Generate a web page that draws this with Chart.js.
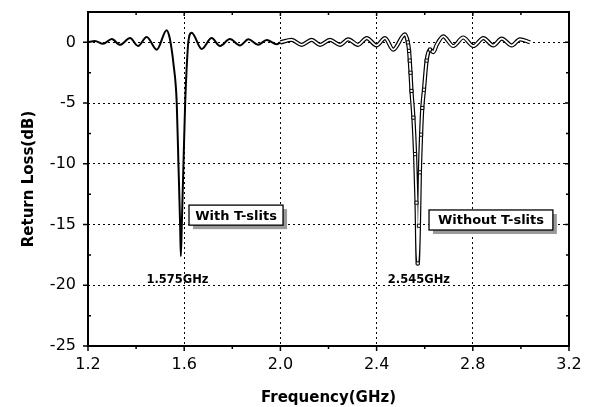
<!DOCTYPE html>
<html>
<head>
<meta charset="utf-8">
<script src="https://cdn.jsdelivr.net/npm/chart.js@4/dist/chart.umd.min.js"></script>
<style>
    html, body { margin: 0; padding: 0; background: #fff; }
    #wrap { width: 594px; height: 407px; }
</style>
</head>
<body>
<div id="wrap"><canvas id="rl" width="594" height="407"></canvas></div>
<script>
// Return loss (GHz, dB)
const freqWith = [1.200, 1.229, 1.262, 1.299, 1.333, 1.375, 1.408, 1.444, 1.486, 1.527, 1.538, 1.548, 1.555,
    1.569, 1.576, 1.583, 1.586, 1.590, 1.597, 1.604, 1.610, 1.617, 1.631, 1.673, 1.714, 1.749, 1.790,
    1.832, 1.867, 1.907, 1.943, 1.985, 2.000];
const lossWith = [0.0, 0.12, -0.12, 0.27, -0.2, 0.35, -0.3, 0.45, -0.6, 1.0, 0.5, -0.6, -1.7,
    -5.0, -10.0, -15.0, -17.6, -15.0, -10.0, -5.0, -2.2, 0.0, 0.8, -0.55, 0.35, -0.3, 0.27,
    -0.25, 0.25, -0.2, 0.2, -0.15, 0.0];

const freqWithout = [2.000, 2.047, 2.088, 2.130, 2.165, 2.206, 2.248, 2.282, 2.323, 2.359, 2.400, 2.435,
    2.469, 2.518, 2.530, 2.535, 2.538, 2.541, 2.545, 2.553, 2.560, 2.566, 2.571, 2.576, 2.580, 2.585,
    2.590, 2.597, 2.608, 2.622, 2.636, 2.650, 2.677, 2.719, 2.760, 2.802, 2.844, 2.885, 2.920, 2.962,
    2.996, 3.038];
const lossWithout = [0.0, 0.2, -0.2, 0.2, -0.2, 0.2, -0.2, 0.25, -0.2, 0.35, -0.25, 0.35,
    -0.6, 0.65, 0.0, -0.7, -1.5, -2.5, -4.0, -6.2, -9.2, -13.2, -18.2, -15.1, -10.7, -7.6,
    -5.4, -3.9, -1.5, -0.6, -0.8, -0.2, 0.5, -0.3, 0.4, -0.3, 0.35, -0.25, 0.3, -0.25,
    0.25, 0.0];

const xTicks = [1.2, 1.6, 2.0, 2.4, 2.8, 3.2];
const yTicks = [-25, -20, -15, -10, -5, 0];

const seriesNames = ['With T-slits', 'Without T-slits'];
const dipLabels = ['1.575GHz', '2.545GHz'];

// where the legend boxes / dip labels sit, in data units
const boxSpots = [
    { x0: 1.62, x1: 2.011, y0: -13.4, y1: -15.05 },
    { x0: 2.618, x1: 3.133, y0: -13.8, y1: -15.45 }
];
const labelSpots = [{ x: 1.572, y: -19.6 }, { x: 2.576, y: -19.6 }];

function pts(xs, ys) {
    return xs.map((x, i) => ({ x: x, y: ys[i] }));
}

function hasMarker(ctx) {
    const v = ctx.raw ? ctx.raw.x : 0;
    return v >= 2.53 && v <= 2.625;
}

// frame, tick marks and the text boxes
const decorPlugin = {
    id: 'decor',
    afterDatasetsDraw(chart) {
        const { ctx, chartArea: a, scales } = chart;
        const xs = scales.x, ys = scales.y;
        ctx.save();
        ctx.strokeStyle = '#000';

        // ticks
        ctx.lineWidth = 1.5;
        ctx.beginPath();
        for (let i = 0; i < xTicks.length; i++) {
            const px = xs.getPixelForValue(xTicks[i]);
            ctx.moveTo(px, a.bottom); ctx.lineTo(px, a.bottom + 5);
            if (i < xTicks.length - 1) {
                const mx = xs.getPixelForValue((xTicks[i] + xTicks[i + 1]) / 2);
                ctx.moveTo(mx, a.bottom); ctx.lineTo(mx, a.bottom + 3);
                ctx.moveTo(mx, a.top); ctx.lineTo(mx, a.top + 3);
            }
            ctx.moveTo(px, a.top); ctx.lineTo(px, a.top + 4);
        }
        for (let i = 0; i < yTicks.length; i++) {
            const py = ys.getPixelForValue(yTicks[i]);
            ctx.moveTo(a.left - 5, py); ctx.lineTo(a.left, py);
            ctx.moveTo(a.right - 4, py); ctx.lineTo(a.right, py);
            const my = ys.getPixelForValue(yTicks[i] + 2.5);
            ctx.moveTo(a.left, my); ctx.lineTo(a.left + 3, my);
            ctx.moveTo(a.right - 3, my); ctx.lineTo(a.right, my);
        }
        ctx.stroke();

        // frame
        ctx.lineWidth = 2;
        ctx.strokeRect(a.left, a.top, a.right - a.left, a.bottom - a.top);

        // legend boxes
        boxSpots.forEach((b, i) => {
            const l = xs.getPixelForValue(b.x0), r = xs.getPixelForValue(b.x1);
            const t = ys.getPixelForValue(b.y0), btm = ys.getPixelForValue(b.y1);
            ctx.fillStyle = '#9a9a9a';
            ctx.fillRect(l + 4, t + 4, r - l, btm - t);
            ctx.fillStyle = '#fff';
            ctx.fillRect(l, t, r - l, btm - t);
            ctx.lineWidth = 1.3;
            ctx.strokeRect(l, t, r - l, btm - t);
            ctx.fillStyle = '#000';
            ctx.font = 'bold 13px "DejaVu Sans"';
            ctx.textAlign = 'center';
            ctx.textBaseline = 'middle';
            ctx.fillText(seriesNames[i], (l + r) / 2, (t + btm) / 2 + 1);
        });

        // dip labels
        ctx.font = 'bold 11.5px "DejaVu Sans"';
        labelSpots.forEach((p, i) => {
            ctx.fillText(dipLabels[i], xs.getPixelForValue(p.x), ys.getPixelForValue(p.y));
        });
        ctx.restore();
    }
};

new Chart(document.getElementById('rl'), {
    type: 'line',
    data: {
        datasets: [
            {
                label: seriesNames[0],
                data: pts(freqWith, lossWith),
                borderColor: '#000',
                borderWidth: 2,
                pointRadius: 0,
                order: 2,
                cubicInterpolationMode: 'monotone'
            },
            {
                label: seriesNames[1] + ' outline',
                data: pts(freqWithout, lossWithout),
                borderColor: '#000',
                borderWidth: 4.2,
                pointRadius: 0,
                order: 1,
                cubicInterpolationMode: 'monotone'
            },
            {
                label: seriesNames[1],
                data: pts(freqWithout, lossWithout),
                borderColor: '#fff',
                borderWidth: 1.8,
                pointStyle: 'rect',
                pointRadius: ctx => hasMarker(ctx) ? 2.2 : 0,
                pointBackgroundColor: '#fff',
                pointBorderColor: '#000',
                pointBorderWidth: 1,
                order: 0,
                cubicInterpolationMode: 'monotone'
            }
        ]
    },
    options: {
        responsive: false,
        animation: false,
        events: [],
        layout: { autoPadding: false, padding: { top: 12, right: 25, left: 0, bottom: 0 } },
        plugins: { legend: { display: false }, tooltip: { enabled: false } },
        scales: {
            x: {
                type: 'linear',
                min: 1.2,
                max: 3.2,
                afterBuildTicks: s => { s.ticks = xTicks.map(v => ({ value: v })); },
                afterFit: s => { s.height = 61; },
                grid: { color: '#000', lineWidth: 1, drawTicks: false },
                border: { display: false, dash: [2, 3] },
                ticks: {
                    color: '#000',
                    padding: 9,
                    maxRotation: 0,
                    font: { family: '"DejaVu Sans"', size: 16 },
                    callback: v => Number(v).toFixed(1)
                },
                title: {
                    display: true,
                    text: 'Frequency(GHz)',
                    color: '#000',
                    padding: { top: 11, bottom: 0 },
                    font: { family: '"DejaVu Sans"', size: 15, weight: 'bold', lineHeight: 1.2 }
                }
            },
            y: {
                min: -25,
                max: 2.5,
                afterBuildTicks: s => { s.ticks = yTicks.map(v => ({ value: v })); },
                afterFit: s => { s.width = 88; s.paddingTop = 0; s.paddingBottom = 0; },
                grid: { color: '#000', lineWidth: 1, drawTicks: false },
                border: { display: false, dash: [2, 3] },
                ticks: {
                    color: '#000',
                    padding: 12,
                    font: { family: '"DejaVu Sans"', size: 16 }
                },
                title: {
                    display: true,
                    text: 'Return Loss(dB)',
                    color: '#000',
                    padding: { top: 20, bottom: 0 },
                    font: { family: '"DejaVu Sans"', size: 15, weight: 'bold', lineHeight: 1.2 }
                }
            }
        }
    },
    plugins: [decorPlugin]
});
</script>
</body>
</html>
